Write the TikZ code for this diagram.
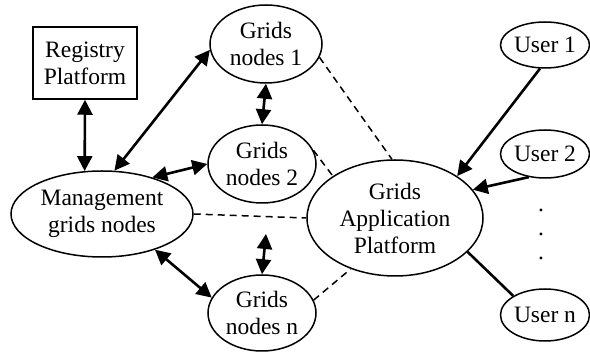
\documentclass[tikz,border=0pt]{standalone}
\usepackage{fontspec}
\setmainfont{Liberation Serif}
\usetikzlibrary{shapes.geometric,arrows.meta}
\begin{document}
\begin{tikzpicture}[x=1pt,y=-1pt,
  every node/.style={font=\fontsize{23.5}{27}\selectfont, align=center, inner sep=0pt},
  ell/.style={ellipse, draw, line width=1.5pt},
  box/.style={rectangle, draw, line width=1.5pt},
  dbl/.style={line width=2.6pt, {Triangle[length=15pt,width=15pt]}-{Triangle[length=15pt,width=15pt]}},
  sgl/.style={line width=2.6pt, -{Triangle[length=15pt,width=15pt]}},
  pl/.style={line width=2.6pt},
  dsh/.style={line width=1.5pt, dash pattern=on 7pt off 5pt}]
\useasboundingbox (0,0) rectangle (590,352);
\node[box, minimum width=104pt, minimum height=72pt] (reg) at (85,63) {Registry\\Platform};
\node[ell, minimum width=112pt, minimum height=78pt] (g1) at (266,44) {Grids\\nodes 1};
\node[ell, minimum width=108pt, minimum height=78pt] (g2) at (262,164) {Grids\\nodes 2};
\node[ell, minimum width=108pt, minimum height=76pt] (gn) at (262,313) {Grids\\nodes n};
\node[ell, minimum width=182pt, minimum height=86pt] (mg) at (102,214) {Management\\grids nodes};
\node[ell, minimum width=176pt, minimum height=116pt] (gap) at (395,218) {Grids\\Application\\Platform};
\node[ell, minimum width=89pt, minimum height=46pt] (u1) at (545,45) {User 1};
\node[ell, minimum width=89pt, minimum height=48pt] (u2) at (545,154) {User 2};
\node[ell, minimum width=89pt, minimum height=52pt] (un) at (545,315) {User n};
\node (d1) at (541,210) {.};
\node (d2) at (541,234) {.};
\node (d3) at (541,258) {.};
\coordinate (va) at (266,234);
% arrows
\draw[dbl] (reg.south) -- (mg.112);
\draw[dbl] (mg.74) -- (g1.186);
\draw[dbl] (g1.south) -- (g2.north);
\draw[dbl] (mg.36) -- (g2.180);
\draw[dbl] (mg.-34) -- (gn.163);
\draw[dbl] (va) -- (gn.north);
\draw[dsh] (mg.east) -- (gap.west);
\draw[dsh] (g1.-14) -- (gap.93);
\draw[dsh] (g2.15) -- (gap.146);
\draw[dsh] (gn.14) -- (gap.-131);
\draw[sgl] (u1.258) -- (gap.34);
\draw[sgl] (u2.235) -- (gap.20);
\draw[pl] (un.149) -- (gap.-25);
\end{tikzpicture}
\end{document}
